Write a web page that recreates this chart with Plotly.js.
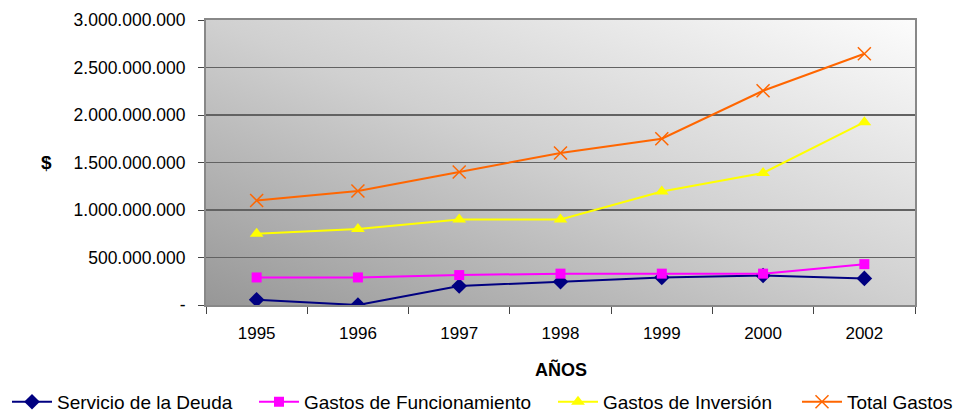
<!DOCTYPE html>
<html>
<head>
<meta charset="utf-8">
<script src="https://cdn.plot.ly/plotly-3.0.1.min.js"></script>
<style>html,body{margin:0;padding:0;background:#fff}#chart{width:959px;height:414px}</style>
</head>
<body>
<div id="chart"></div>
<script>
var years = ['1995','1996','1997','1998','1999','2000','2002'];
var servicioDeuda = [55000000, 0, 200000000, 245000000, 290000000, 310000000, 280000000];
var gastosFuncionamiento = [290000000, 290000000, 315000000, 330000000, 330000000, 330000000, 430000000];
var gastosInversion = [750000000, 800000000, 900000000, 900000000, 1195000000, 1390000000, 1925000000];
var totalGastos = [1100000000, 1200000000, 1400000000, 1600000000, 1750000000, 2255000000, 2645000000];
var yTickVals = [0, 500000000, 1000000000, 1500000000, 2000000000, 2500000000, 3000000000];
var yTickText = ['-', '500.000.000', '1.000.000.000', '1.500.000.000', '2.000.000.000', '2.500.000.000', '3.000.000.000'];

var font = 'Liberation Sans, Arial, sans-serif';
var traces = [
  {x: years, y: servicioDeuda, name: 'Servicio de la Deuda', type: 'scatter', mode: 'lines+markers', legend: 'legend',
   line: {color: '#000080', width: 2}, marker: {symbol: 'diamond', size: 12, color: '#000080'}},
  {x: years, y: gastosFuncionamiento, name: 'Gastos de Funcionamiento', type: 'scatter', mode: 'lines+markers', legend: 'legend2',
   line: {color: '#ff00ff', width: 2}, marker: {symbol: 'square', size: 10, color: '#ff00ff'}},
  {x: years, y: gastosInversion, name: 'Gastos de Inversión', type: 'scatter', mode: 'lines+markers', legend: 'legend3',
   line: {color: '#ffff00', width: 2}, marker: {symbol: 'triangle-up', size: 12, color: '#ffff00'}},
  {x: years, y: totalGastos, name: 'Total Gastos', type: 'scatter', mode: 'lines+markers', legend: 'legend4',
   line: {color: '#ff6600', width: 2}, marker: {symbol: 'x-thin-open', size: 13, color: '#ff6600', line: {color: '#ff6600', width: 1.5}}}
];

var grad = '<svg xmlns="http://www.w3.org/2000/svg" width="709" height="285" preserveAspectRatio="none">' +
  '<defs><linearGradient id="g" x1="0" y1="1" x2="1" y2="0">' +
  '<stop offset="0" stop-color="#979797"/><stop offset="0.5" stop-color="#d0d0d0"/><stop offset="1" stop-color="#fcfcfc"/>' +
  '</linearGradient></defs><rect width="709" height="285" fill="url(#g)"/></svg>';

function legendAt(px) {
  return {orientation: 'h', xref: 'container', yref: 'paper', x: px / 959, xanchor: 'left', y: -0.34, yanchor: 'middle',
          font: {family: font, size: 19, color: '#000'}, itemwidth: 40, bgcolor: 'rgba(0,0,0,0)'};
}

var layout = {
  width: 959, height: 414,
  margin: {l: 206, r: 44, t: 20, b: 109, autoexpand: false},
  paper_bgcolor: '#ffffff',
  plot_bgcolor: 'rgba(0,0,0,0)',
  font: {family: font, color: '#000', size: 17},
  showlegend: true,
  legend: legendAt(7),
  legend2: legendAt(254),
  legend3: legendAt(553),
  legend4: legendAt(797),
  xaxis: {type: 'category', tickson: 'boundaries', ticks: 'outside', ticklen: 7, tickcolor: '#444',
          showline: true, linecolor: '#888', linewidth: 2, mirror: true, showgrid: false,
          tickfont: {family: font, size: 17}, range: [-0.5, 6.5], ticklabelstandoff: 12},
  yaxis: {range: [0, 3000000000], tickvals: yTickVals, ticktext: yTickText, ticks: 'outside', ticklen: 6,
          tickcolor: '#444', showline: true, linecolor: '#888', linewidth: 2, mirror: true,
          showgrid: true, gridcolor: '#626262', gridwidth: 1.5, zeroline: false, ticklabelstandoff: 9,
          tickfont: {family: font, size: 17.5}},
  annotations: [
    {text: '<b>$</b>', xref: 'paper', yref: 'paper', x: -0.225, y: 0.5, xanchor: 'center', yanchor: 'middle',
     showarrow: false, font: {family: font, size: 19, color: '#000'}},
    {text: '<b>AÑOS</b>', xref: 'paper', yref: 'paper', x: 0.5, y: -0.225, xanchor: 'center', yanchor: 'middle',
     showarrow: false, font: {family: font, size: 18, color: '#000'}}
  ],
  images: [{source: 'data:image/svg+xml;charset=utf-8,' + encodeURIComponent(grad),
            xref: 'paper', yref: 'paper', x: 0, y: 1, sizex: 1, sizey: 1,
            xanchor: 'left', yanchor: 'top', sizing: 'stretch', layer: 'below'}]
};
Plotly.newPlot('chart', traces, layout, {displayModeBar: false, staticPlot: true});
</script>
</body>
</html>
